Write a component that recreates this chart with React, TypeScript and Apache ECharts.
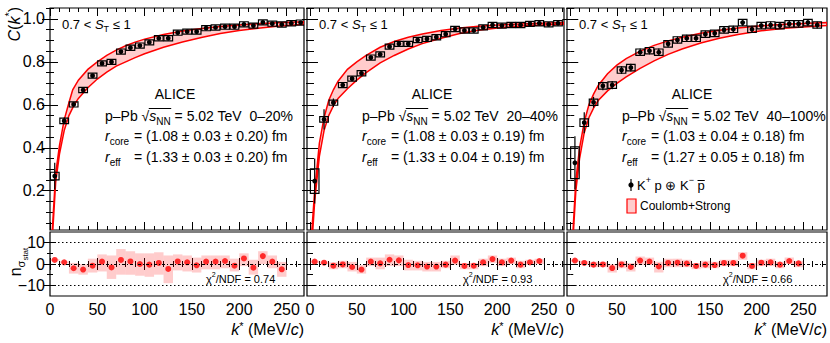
import React, { useEffect, useRef } from "react";
import * as echarts from "echarts";

// ---------------- data ----------------
const K_BINS = [5, 15, 25, 35, 45, 55, 65, 75, 85, 95, 105, 115, 125, 135, 145, 155, 165, 175, 185, 195, 205, 215, 225, 235, 245, 255, 265];
const NS_BINS = [5, 15, 25, 35, 45, 55, 65, 75, 85, 95, 105, 115, 125, 135, 145, 155, 165, 175, 185, 195, 205, 215, 225, 235, 245];

const C_0_20 = [0.268, 0.525, 0.602, 0.669, 0.736, 0.793, 0.8, 0.848, 0.866, 0.876, 0.891, 0.91, 0.91, 0.936, 0.941, 0.941, 0.957, 0.96, 0.964, 0.964, 0.975, 0.969, 0.984, 0.978, 0.974, 0.98, 0.983];
const STAT_0_20 = [0.062, 0.016, 0.01, 0.009, 0.008, 0.008, 0.008, 0.007, 0.007, 0.007, 0.007, 0.007, 0.007, 0.007, 0.007, 0.007, 0.007, 0.007, 0.007, 0.007, 0.007, 0.007, 0.007, 0.007, 0.007, 0.007, 0.007];
const SYS_0_20 = [0.018, 0.013, 0.012, 0.012, 0.012, 0.012, 0.012, 0.012, 0.012, 0.012, 0.012, 0.012, 0.012, 0.012, 0.012, 0.012, 0.012, 0.012, 0.012, 0.012, 0.012, 0.012, 0.012, 0.012, 0.012, 0.012, 0.012];

const C_20_40 = [0.245, 0.532, 0.61, 0.692, 0.722, 0.747, 0.82, 0.835, 0.871, 0.884, 0.884, 0.902, 0.907, 0.915, 0.929, 0.953, 0.946, 0.946, 0.961, 0.972, 0.969, 0.972, 0.972, 0.977, 0.98, 0.975, 0.98];
const STAT_20_40 = [0.105, 0.047, 0.02, 0.014, 0.012, 0.011, 0.01, 0.01, 0.009, 0.009, 0.009, 0.009, 0.009, 0.009, 0.009, 0.009, 0.009, 0.009, 0.009, 0.009, 0.009, 0.009, 0.009, 0.009, 0.009, 0.009, 0.009];
const SYS_20_40 = [0.057, 0.013, 0.012, 0.012, 0.012, 0.012, 0.012, 0.012, 0.012, 0.012, 0.012, 0.012, 0.012, 0.012, 0.012, 0.012, 0.012, 0.012, 0.012, 0.012, 0.012, 0.012, 0.012, 0.012, 0.012, 0.012, 0.012];

const C_40_100 = [0.33, 0.517, 0.612, 0.688, 0.692, 0.762, 0.773, 0.845, 0.852, 0.845, 0.884, 0.902, 0.91, 0.91, 0.929, 0.933, 0.949, 0.952, 0.983, 0.952, 0.969, 0.972, 0.969, 0.977, 0.977, 0.983, 0.972];
const STAT_40_100 = [0.124, 0.049, 0.025, 0.02, 0.019, 0.018, 0.018, 0.017, 0.017, 0.017, 0.016, 0.016, 0.016, 0.016, 0.016, 0.016, 0.016, 0.016, 0.016, 0.016, 0.016, 0.016, 0.016, 0.016, 0.016, 0.016, 0.016];
const SYS_40_100 = [0.074, 0.018, 0.015, 0.015, 0.015, 0.015, 0.015, 0.015, 0.015, 0.015, 0.015, 0.015, 0.015, 0.015, 0.015, 0.015, 0.015, 0.015, 0.015, 0.015, 0.015, 0.015, 0.015, 0.015, 0.015, 0.015, 0.015];

// Coulomb+Strong band edges [k*, C]
const FIT_HI_0_20 = [[2.4, 0.017], [6, 0.28], [10, 0.41], [15, 0.53], [20, 0.61], [24, 0.67], [30, 0.715], [40, 0.765], [50, 0.8], [60, 0.83], [70, 0.855], [80, 0.875], [90, 0.892], [100, 0.906], [120, 0.928], [140, 0.944], [160, 0.956], [180, 0.965], [200, 0.972], [220, 0.978], [240, 0.982], [268.5, 0.987]];
const FIT_LO_0_20 = [[3, 0.017], [6, 0.24], [10, 0.37], [15, 0.48], [20, 0.55], [25, 0.595], [30, 0.63], [40, 0.68], [50, 0.72], [60, 0.752], [70, 0.78], [80, 0.8], [90, 0.82], [100, 0.838], [120, 0.868], [140, 0.893], [160, 0.914], [180, 0.932], [200, 0.946], [220, 0.957], [240, 0.966], [268.5, 0.975]];
const FIT_HI_20_40 = [[2, 0.017], [5, 0.2], [10, 0.42], [15, 0.54], [20, 0.62], [25, 0.67], [30, 0.71], [40, 0.765], [50, 0.8], [60, 0.83], [75, 0.868], [90, 0.895], [105, 0.915], [120, 0.93], [140, 0.946], [160, 0.958], [180, 0.966], [205, 0.973], [230, 0.978], [271.4, 0.984]];
const FIT_LO_20_40 = [[3, 0.017], [5, 0.15], [10, 0.36], [15, 0.48], [20, 0.55], [25, 0.595], [30, 0.63], [40, 0.675], [50, 0.715], [60, 0.75], [75, 0.795], [90, 0.83], [105, 0.86], [120, 0.885], [140, 0.91], [160, 0.932], [180, 0.947], [205, 0.96], [230, 0.968], [271.4, 0.975]];
const FIT_HI_40_100 = [[3, 0.017], [6, 0.25], [10, 0.4], [15, 0.52], [20, 0.6], [25, 0.65], [30, 0.69], [40, 0.745], [50, 0.785], [60, 0.815], [75, 0.85], [90, 0.877], [105, 0.898], [120, 0.915], [140, 0.933], [160, 0.947], [180, 0.958], [205, 0.968], [230, 0.975], [275.5, 0.983]];
const FIT_LO_40_100 = [[3.5, 0.017], [6, 0.2], [10, 0.35], [15, 0.47], [20, 0.54], [25, 0.585], [30, 0.62], [40, 0.665], [50, 0.7], [60, 0.73], [75, 0.77], [90, 0.805], [105, 0.835], [120, 0.86], [140, 0.888], [160, 0.91], [180, 0.928], [205, 0.945], [230, 0.957], [275.5, 0.97]];

// n_sigma deviations and their bands
const NS_0_20 = [1.9, 0.8, -2.0, -2.6, -0.8, 1.1, -1.6, 1.9, 1.2, 0.0, -0.3, 0.5, -2.3, 1.2, 0.8, -0.6, 1.1, 1.1, 1.4, -0.8, 2.6, -1.7, 3.7, 1.1, -2.5];
const NS_LO_0_20 = [1.5, 0.3, -4.5, -5, -4, -3.5, -7, -5, -5, -5.5, -6, -5, -9, -3, -3.5, -4, -2.5, -2.5, -2, -3.5, -1, -5, 0, -2, -6];
const NS_HI_0_20 = [2.3, 1.3, 0.5, 0, 2.5, 4.5, 4, 7, 6, 5, 5, 5.5, 4, 4.5, 4, 3, 4, 4, 4, 2.5, 5, 2, 6, 4, 1];
const NS_20_40 = [1.1, 0.6, -0.8, -0.2, -1.4, -2.6, 1.1, 0.3, 2.0, 1.7, -0.5, -0.6, -1.2, -1.2, -0.3, 1.6, -0.9, -0.8, 0.8, 2.3, 0.8, 1.6, -0.3, 0.8, 1.4];
const NS_LO_20_40 = [0.5, 0, -2.5, -2, -3.5, -4.5, -1, -2.5, -1, -1, -3, -3, -3.5, -3.5, -2, -0.5, -2.5, -2.5, -1, 0.5, -1, 0, -2, -0.5, 0];
const NS_HI_20_40 = [1.6, 1.2, 0.8, 1.5, 1, -0.5, 3, 3, 4.5, 4, 2, 1.5, 1, 1, 1.5, 4, 0.5, 0.5, 2.5, 4, 2.5, 3, 1.5, 2, 2.5];
const NS_40_100 = [1.6, 0.5, -0.3, -0.2, -1.9, -0.2, -1.4, 1.6, 1.1, -1.1, 0.5, 0.6, 0.2, -0.9, -0.3, -0.5, 0.5, 0.5, 3.9, -0.9, 0.6, 0.8, -0.3, 1.4, 0.3];
const NS_LO_40_100 = [1, -0.3, -1.5, -1.5, -4, -2, -3.5, -0.5, -0.5, -4, -1.5, -1.5, -1.5, -2.5, -2, -2, -1, -1, 2, -2.5, -1, -1, -2, 0, -1.5];
const NS_HI_40_100 = [2, 1.5, 1, 1, 0, 1.5, 0.5, 3.5, 3, 1, 2.5, 2.5, 2, 0.5, 1.5, 1, 2, 2, 5.5, 0.5, 2, 2.5, 1, 3, 1.5];

const CENTRALITY = ["0\u201320%", "20\u201340%", "40\u2013100%"];
const R_CORE = ["(1.08 \u00b1 0.03 \u00b1 0.20) fm", "(1.08 \u00b1 0.03 \u00b1 0.19) fm", "(1.03 \u00b1 0.04 \u00b1 0.18) fm"];
const R_EFF = ["(1.33 \u00b1 0.03 \u00b1 0.20) fm", "(1.33 \u00b1 0.04 \u00b1 0.19) fm", "(1.27 \u00b1 0.05 \u00b1 0.18) fm"];
const CHI2_NDF = ["0.74", "0.93", "0.66"];

const C_TICK_LABELS = [0.2, 0.4, 0.6, 0.8, 1.0];
const K_TICK_LABELS = [0, 50, 100, 150, 200, 250];
const NS_TICK_LABELS = [-10, 0, 10];

// ---------------- layout / style ----------------
const FONT = '"Liberation Sans", Arial, Helvetica, sans-serif';
const PANEL_LAYOUT = [
  { left: 50, width: 254, xMin: 0, xMax: 268.5 },
  { left: 307, width: 257, xMin: -3.2, xMax: 271.4 },
  { left: 567, width: 260, xMin: -3.5, xMax: 275.5 },
];
const TOP_Y = 8, TOP_H = 222, BOT_Y = 232, BOT_H = 64;
const C_MIN = 0.017, C_MAX = 1.051;
const NS_MIN = -15, NS_MAX = 15;
const BAND_FILL = "rgba(255,0,0,0.2)";
const BOX_HALF = 4.6;

const PANELS = [
  { c: C_0_20, stat: STAT_0_20, sys: SYS_0_20, hi: FIT_HI_0_20, lo: FIT_LO_0_20, ns: NS_0_20, nsLo: NS_LO_0_20, nsHi: NS_HI_0_20 },
  { c: C_20_40, stat: STAT_20_40, sys: SYS_20_40, hi: FIT_HI_20_40, lo: FIT_LO_20_40, ns: NS_20_40, nsLo: NS_LO_20_40, nsHi: NS_HI_20_40 },
  { c: C_40_100, stat: STAT_40_100, sys: SYS_40_100, hi: FIT_HI_40_100, lo: FIT_LO_40_100, ns: NS_40_100, nsLo: NS_LO_40_100, nsHi: NS_HI_40_100 },
];

function steps(from: number, to: number, step: number, lo: number, hi: number) {
  const out: number[] = [];
  for (let i = Math.round(from / step); i * step <= to + 1e-9; i++) {
    const v = Math.round(i * step * 1000) / 1000;
    if (v >= lo - 1e-9 && v <= hi + 1e-9) out.push(v);
  }
  return out;
}

function rich(size: number, lh: number) {
  const small = Math.round(size * 0.68);
  return {
    it: { fontStyle: "italic", fontSize: size, fontFamily: FONT, lineHeight: lh },
    n: { fontSize: size, fontFamily: FONT, lineHeight: lh },
    sub: { fontSize: small, fontFamily: FONT, lineHeight: small, verticalAlign: "bottom" },
    sup: { fontSize: small, fontFamily: FONT, lineHeight: small, verticalAlign: "top" },
    subsub: { fontSize: Math.round(size * 0.5), fontFamily: FONT, lineHeight: Math.round(size * 0.5), verticalAlign: "bottom", padding: [0, 0, -3, 0] },
  };
}

function txt(x: number, y: number, text: string, size: number, opts: any = {}) {
  const lh = opts.lh || size + 6;
  return {
    type: "text",
    x,
    y,
    rotation: opts.rotation || 0,
    silent: true,
    z: 100,
    style: {
      text,
      rich: rich(size, lh),
      fontSize: size,
      fontFamily: FONT,
      fontStyle: opts.italic ? "italic" : "normal",
      lineHeight: lh,
      fill: "#000",
      align: opts.align || "left",
      verticalAlign: opts.va || "middle",
    },
  };
}

function buildOption() {
  const grid: any[] = [];
  const xAxis: any[] = [];
  const yAxis: any[] = [];
  const series: any[] = [];
  const graphic: any[] = [];

  const cv = document.createElement("canvas").getContext("2d") as CanvasRenderingContext2D;
  const mw = (t: string, size: number, italic = false) => {
    cv.font = `${italic ? "italic " : ""}${size}px ${FONT}`;
    return cv.measureText(t).width;
  };

  function addAxisSet(list: any[], dim: "x" | "y", gridIndex: number, min: number, max: number, majors: number[], minors: number[], labels: number[] | null, majorLen: number, minorLen: number, fmt: (v: number) => string) {
    const sides = dim === "x" ? ["bottom", "top"] : ["left", "right"];
    const first = list.length;
    const make = (pos: string, vals: number[], len: number, labs: number[] | null) => ({
      type: "value",
      gridIndex,
      position: pos,
      min,
      max,
      axisLine: { show: false },
      splitLine: { show: false },
      axisTick: { show: true, inside: true, length: len, customValues: vals, lineStyle: { color: "#000", width: 1 } },
      axisLabel: labs
        ? { show: true, customValues: labs, formatter: fmt, color: "#000", fontSize: 16, fontFamily: FONT, margin: 5 }
        : { show: false },
    });
    sides.forEach((pos, si) => {
      list.push(make(pos, majors, majorLen, si === 0 ? labels : null));
      list.push(make(pos, minors, minorLen, null));
    });
    return first;
  }

  PANELS.forEach((P, i) => {
    const L = PANEL_LAYOUT[i];
    const gTop = grid.length;
    grid.push({ left: L.left, top: TOP_Y, width: L.width, height: TOP_H, show: true, borderColor: "#000", borderWidth: 1.2, backgroundColor: "rgba(0,0,0,0)", outerBoundsMode: "none" });
    const gBot = grid.length;
    grid.push({ left: L.left, top: BOT_Y, width: L.width, height: BOT_H, show: true, borderColor: "#000", borderWidth: 1.2, backgroundColor: "rgba(0,0,0,0)", outerBoundsMode: "none" });

    const kMaj = steps(0, 300, 50, L.xMin, L.xMax);
    const kMin = steps(0, 300, 10, L.xMin, L.xMax);
    const cMaj = steps(0, 1.0, 0.2, C_MIN, C_MAX);
    const cMin = steps(0, 1.05, 0.05, C_MIN, C_MAX);
    const nMaj = steps(-10, 10, 10, NS_MIN, NS_MAX);
    const nMin = steps(-15, 15, 5, NS_MIN + 0.1, NS_MAX - 0.1);

    const xt = addAxisSet(xAxis, "x", gTop, L.xMin, L.xMax, kMaj, kMin, null, 8, 4, (v) => String(v));
    const yt = addAxisSet(yAxis, "y", gTop, C_MIN, C_MAX, cMaj, cMin, i === 0 ? C_TICK_LABELS : null, 8, 4, (v) => v.toFixed(1));
    const xb = addAxisSet(xAxis, "x", gBot, L.xMin, L.xMax, kMaj, kMin, K_TICK_LABELS, 6, 3, (v) => String(v));
    const yb = addAxisSet(yAxis, "y", gBot, NS_MIN, NS_MAX, nMaj, nMin, i === 0 ? NS_TICK_LABELS : null, 6, 3, (v) => (v < 0 ? "\u2212" + Math.abs(v) : String(v)));

    // model band
    series.push({
      type: "custom",
      xAxisIndex: xt,
      yAxisIndex: yt,
      clip: true,
      silent: true,
      z: 1,
      data: [[0, 0.5]],
      renderItem: (_p: any, api: any) => {
        const pts = P.hi.map((p) => api.coord(p)).concat(P.lo.slice().reverse().map((p) => api.coord(p)));
        return { type: "polygon", shape: { points: pts }, style: { fill: BAND_FILL, stroke: "#ff0000", lineWidth: 1.5 } };
      },
    });
    // data points with stat bars and sys boxes
    series.push({
      type: "custom",
      xAxisIndex: xt,
      yAxisIndex: yt,
      clip: true,
      silent: true,
      z: 3,
      data: K_BINS.map((k, j) => [k, P.c[j], P.stat[j], P.sys[j]]),
      renderItem: (_p: any, api: any) => {
        const k = api.value(0), c = api.value(1), st = api.value(2), sy = api.value(3);
        const p = api.coord([k, c]);
        const b1 = api.coord([k - BOX_HALF, c + sy]);
        const b2 = api.coord([k + BOX_HALF, c - sy]);
        const s1 = api.coord([k, c + st]);
        const s2 = api.coord([k, c - st]);
        return {
          type: "group",
          children: [
            { type: "rect", shape: { x: b1[0], y: b1[1], width: b2[0] - b1[0], height: b2[1] - b1[1] }, style: { fill: "none", stroke: "#000", lineWidth: 1.2 } },
            { type: "line", shape: { x1: s1[0], y1: s1[1], x2: s2[0], y2: s2[1] }, style: { stroke: "#000", lineWidth: 1.2 } },
            { type: "circle", shape: { cx: p[0], cy: p[1], r: 2.4 }, style: { fill: "#000" } },
          ],
        };
      },
    });

    // n sigma band boxes
    series.push({
      type: "custom",
      xAxisIndex: xb,
      yAxisIndex: yb,
      clip: true,
      silent: true,
      z: 1,
      data: NS_BINS.map((k, j) => [k, P.nsLo[j], P.nsHi[j]]),
      renderItem: (_p: any, api: any) => {
        const k = api.value(0);
        const a = api.coord([k - 5, api.value(2)]);
        const b = api.coord([k + 5, api.value(1)]);
        return { type: "rect", shape: { x: a[0], y: a[1], width: b[0] - a[0], height: b[1] - a[1] }, style: { fill: BAND_FILL } };
      },
    });
    series.push({
      type: "scatter",
      xAxisIndex: xb,
      yAxisIndex: yb,
      silent: true,
      z: 3,
      symbol: "circle",
      symbolSize: 6,
      itemStyle: { color: "#ff0000" },
      data: NS_BINS.map((k, j) => [k, P.ns[j]]),
      markLine: {
        silent: true,
        symbol: "none",
        label: { show: false },
        emphasis: { disabled: true },
        data: [
          { yAxis: 10, lineStyle: { color: "#000", width: 1, type: [1.5, 2.5] } },
          { yAxis: -10, lineStyle: { color: "#000", width: 1, type: [1.5, 2.5] } },
          { yAxis: 0, lineStyle: { color: "#000", width: 1, type: [3, 2, 1, 2] } },
        ],
      },
    });

    // annotations
    const X0 = L.left;
    graphic.push(txt(X0 + 12, 24, "0.7 < {it|S}{sub|T} \u2264 1", 13));
    graphic.push(txt(X0 + 125, 94, "ALICE", 14, { align: "center" }));
    const lx = X0 + 55;
    graphic.push(txt(lx, 116, `p\u2013Pb {n|\u221a}{it|s}{sub|NN} = 5.02 TeV  ${CENTRALITY[i]}`, 14));
    const ovX = lx + mw("p\u2013Pb ", 14) + mw("\u221a", 14) - 0.5;
    const ovW = mw("s", 14, true) + mw("NN", 10) + 1;
    graphic.push({ type: "line", silent: true, z: 100, shape: { x1: ovX, y1: 108.5, x2: ovX + ovW, y2: 108.5 }, style: { stroke: "#000", lineWidth: 1 } });
    graphic.push(txt(lx, 136, "{it|r}{sub|core}", 14));
    graphic.push(txt(lx + 29, 136, `= ${R_CORE[i]}`, 14));
    graphic.push(txt(lx, 157, "{it|r}{sub|eff}", 14));
    graphic.push(txt(lx + 29, 157, `= ${R_EFF[i]}`, 14));
    graphic.push(txt(X0 + 156, 279, `\u03c7{sup|2}/NDF = ${CHI2_NDF[i]}`, 11));
    graphic.push(txt(L.left + L.width, 329, "{it|k}{sup|*} (MeV/{it|c})", 16, { align: "right", lh: 17 }));
  });

  // y titles
  graphic.push(txt(14, 7, "{it|C}({it|k}{sup|*})", 16, { rotation: Math.PI / 2, align: "right" }));
  graphic.push(txt(15, 262, "n{sub|\u03c3}{subsub|stat}", 16, { rotation: Math.PI / 2, align: "center" }));

  // legend (panel 3)
  const lgx = 631;
  graphic.push({ type: "line", silent: true, z: 100, shape: { x1: lgx, y1: 179, x2: lgx, y2: 191 }, style: { stroke: "#000", lineWidth: 1.2 } });
  graphic.push({ type: "circle", silent: true, z: 100, shape: { cx: lgx, cy: 185, r: 2.6 }, style: { fill: "#000" } });
  const lt = 637;
  graphic.push(txt(lt, 185, "K{sup|+} p \u2295 K{sup|\u2212} p", 13));
  const pbX = lt + mw("K", 13) + mw("+", 9) + mw(" p \u2295 K", 13) + mw("\u2212", 9) + mw(" ", 13);
  graphic.push({ type: "line", silent: true, z: 100, shape: { x1: pbX, y1: 180.5, x2: pbX + mw("p", 13), y2: 180.5 }, style: { stroke: "#000", lineWidth: 1 } });
  graphic.push({ type: "rect", silent: true, z: 100, shape: { x: 627, y: 199, width: 9, height: 14 }, style: { fill: BAND_FILL, stroke: "#ff0000", lineWidth: 1.2 } });
  graphic.push(txt(640, 206, "Coulomb+Strong", 12));

  return {
    animation: false,
    backgroundColor: "#fff",
    textStyle: { fontFamily: FONT },
    grid,
    xAxis,
    yAxis,
    series,
    graphic,
  };
}

export default function App() {
  const ref = useRef<HTMLDivElement>(null);
  useEffect(() => {
    document.body.style.margin = "0";
    const chart = echarts.init(ref.current as HTMLDivElement, null, { renderer: "svg" });
    chart.setOption(buildOption() as any);
    return () => chart.dispose();
  }, []);
  return <div ref={ref} style={{ width: 830, height: 343, background: "#fff" }} />;
}
